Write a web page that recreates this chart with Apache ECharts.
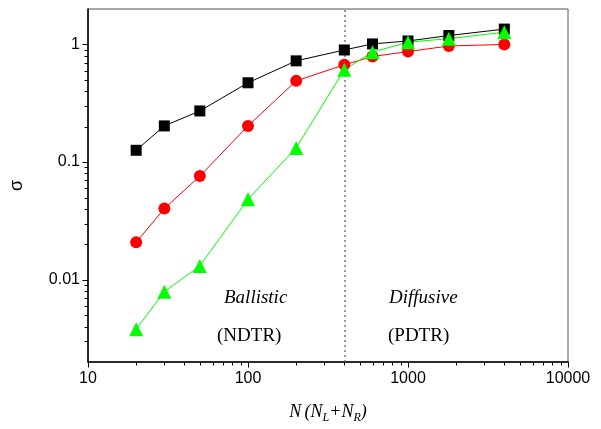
<!DOCTYPE html>
<html>
<head>
<meta charset="utf-8">
<script src="https://cdn.jsdelivr.net/npm/echarts@6/dist/echarts.min.js"></script>
<style>
  html, body { margin: 0; padding: 0; background: #fff; }
  #chart { width: 601px; height: 429px; }
</style>
</head>
<body>
<div id="chart"></div>
<script>
// chain length N and conductance-like sigma for the three series
const nValues = [20, 30, 50, 100, 200, 400, 600, 1000, 1800, 4000]
const sigmaSquare = [0.126, 0.203, 0.272, 0.472, 0.725, 0.897, 1.01, 1.07, 1.19, 1.35]
const sigmaCircle = [0.0208, 0.0403, 0.076, 0.203, 0.49, 0.671, 0.79, 0.869, 0.97, 1.0]
const sigmaTriangle = [0.0038, 0.0079, 0.0131, 0.0483, 0.132, 0.61, 0.86, 1.045, 1.12, 1.27]
const crossoverN = 400

const xMajorTicks = [10, 100, 1000, 10000]
const yMajorTicks = [0.01, 0.1, 1]
const xMinorTicks = [20, 30, 40, 50, 60, 70, 80, 90, 200, 300, 400, 500, 600, 700, 800, 900,
  2000, 3000, 4000, 5000, 6000, 7000, 8000, 9000]
const yMinorTicks = [0.003, 0.004, 0.005, 0.006, 0.007, 0.008, 0.009,
  0.02, 0.03, 0.04, 0.05, 0.06, 0.07, 0.08, 0.09,
  0.2, 0.3, 0.4, 0.5, 0.6, 0.7, 0.8, 0.9]

const X_MIN = 10, X_MAX = 10000, Y_MIN = 0.002, Y_MAX = 2

const chart = echarts.init(document.getElementById('chart'), null, { renderer: 'canvas' })

function pairs(ys) {
  return nValues.map((n, i) => [n, ys[i]])
}

function lineSeries(name, ys, color, symbol, size) {
  return {
    name,
    type: 'line',
    data: pairs(ys),
    symbol,
    symbolSize: size,
    lineStyle: { width: 1, color },
    itemStyle: { color },
    z: 3,
  }
}

const labelFont = { color: '#000', fontFamily: 'Liberation Sans', fontSize: 16 }
const textFont = 'Liberation Serif'

chart.setOption({
  animation: false,
  backgroundColor: '#fff',
  grid: {
    left: 86, right: 33, top: 9, bottom: 61,
    show: true, borderColor: '#555', borderWidth: 1, backgroundColor: 'transparent',
  },
  xAxis: {
    type: 'log',
    logBase: 10,
    min: X_MIN,
    max: X_MAX,
    name: '{i|N} {i|(N}{s|L}{i|+N}{s|R}{i|)}',
    nameLocation: 'middle',
    nameGap: 38,
    nameTextStyle: {
      rich: {
        i: { fontFamily: textFont, fontStyle: 'italic', fontSize: 18, color: '#000' },
        s: { fontFamily: textFont, fontStyle: 'italic', fontSize: 12, color: '#000',
          verticalAlign: 'bottom', padding: [12, 0, 0, 0] },
      },
    },
    axisLine: { show: true, lineStyle: { color: '#000', width: 1.5 } },
    axisTick: { show: false },
    axisLabel: { ...labelFont, margin: 9, formatter: (v) => String(Math.round(v)) },
    splitLine: { show: false },
  },
  yAxis: {
    type: 'log',
    logBase: 10,
    min: Y_MIN,
    max: Y_MAX,
    name: 'σ',
    nameLocation: 'middle',
    nameGap: 62,
    nameTextStyle: { fontFamily: 'Liberation Sans', fontSize: 18, color: '#000' },
    axisLine: { show: true, lineStyle: { color: '#000', width: 1.5 } },
    axisTick: { show: false },
    axisLabel: {
      ...labelFont, margin: 8, showMinLabel: false, showMaxLabel: false,
      formatter: (v) => String(+v.toPrecision(3)),
    },
    splitLine: { show: false },
  },
  series: [
    {
      type: 'line',
      data: [],
      z: 1,
      markLine: {
        silent: true,
        symbol: 'none',
        z: 1,
        label: { show: false },
        lineStyle: { color: '#777', type: [2, 3], width: 1.5 },
        data: [{ xAxis: crossoverN }],
      },
    },
    lineSeries('square', sigmaSquare, '#000000', 'rect', 11),
    lineSeries('circle', sigmaCircle, '#ff0000', 'circle', 12),
    lineSeries('triangle', sigmaTriangle, '#00ff00', 'triangle', 14),
  ],
})

// ticks (major and 2..9 minor) positioned through the chart's own axis scales
const toPx = (pt) => chart.convertToPixel({ gridIndex: 0 }, pt)
const tickLines = []
function addXTicks(values, len) {
  values.forEach((v) => {
    const p = toPx([v, Y_MIN])
    tickLines.push({ type: 'line', silent: true, z: 10,
      shape: { x1: Math.round(p[0]) + 0.5, y1: p[1], x2: Math.round(p[0]) + 0.5, y2: p[1] + len },
      style: { stroke: '#000', lineWidth: 1 } })
  })
}
function addYTicks(values, len) {
  values.forEach((v) => {
    const p = toPx([X_MIN, v])
    tickLines.push({ type: 'line', silent: true, z: 10,
      shape: { x1: p[0], y1: Math.round(p[1]) + 0.5, x2: p[0] - len, y2: Math.round(p[1]) + 0.5 },
      style: { stroke: '#000', lineWidth: 1 } })
  })
}
addXTicks(xMajorTicks, 5.5)
addXTicks(xMinorTicks, 3.5)
addYTicks(yMajorTicks, 5.5)
addYTicks(yMinorTicks, 3.5)

const regimeText = [
  { left: 224, top: 288, text: 'Ballistic', italic: true },
  { left: 217, top: 327, text: '(NDTR)', italic: false },
  { left: 389, top: 288, text: 'Diffusive', italic: true },
  { left: 388, top: 327, text: '(PDTR)', italic: false },
].map((t) => ({
  type: 'text', left: t.left, top: t.top,
  style: { text: t.text, font: (t.italic ? 'italic ' : '') + '19px "' + textFont + '"', fill: '#000' },
}))

chart.setOption({ graphic: regimeText.concat(tickLines) })
</script>
</body>
</html>
